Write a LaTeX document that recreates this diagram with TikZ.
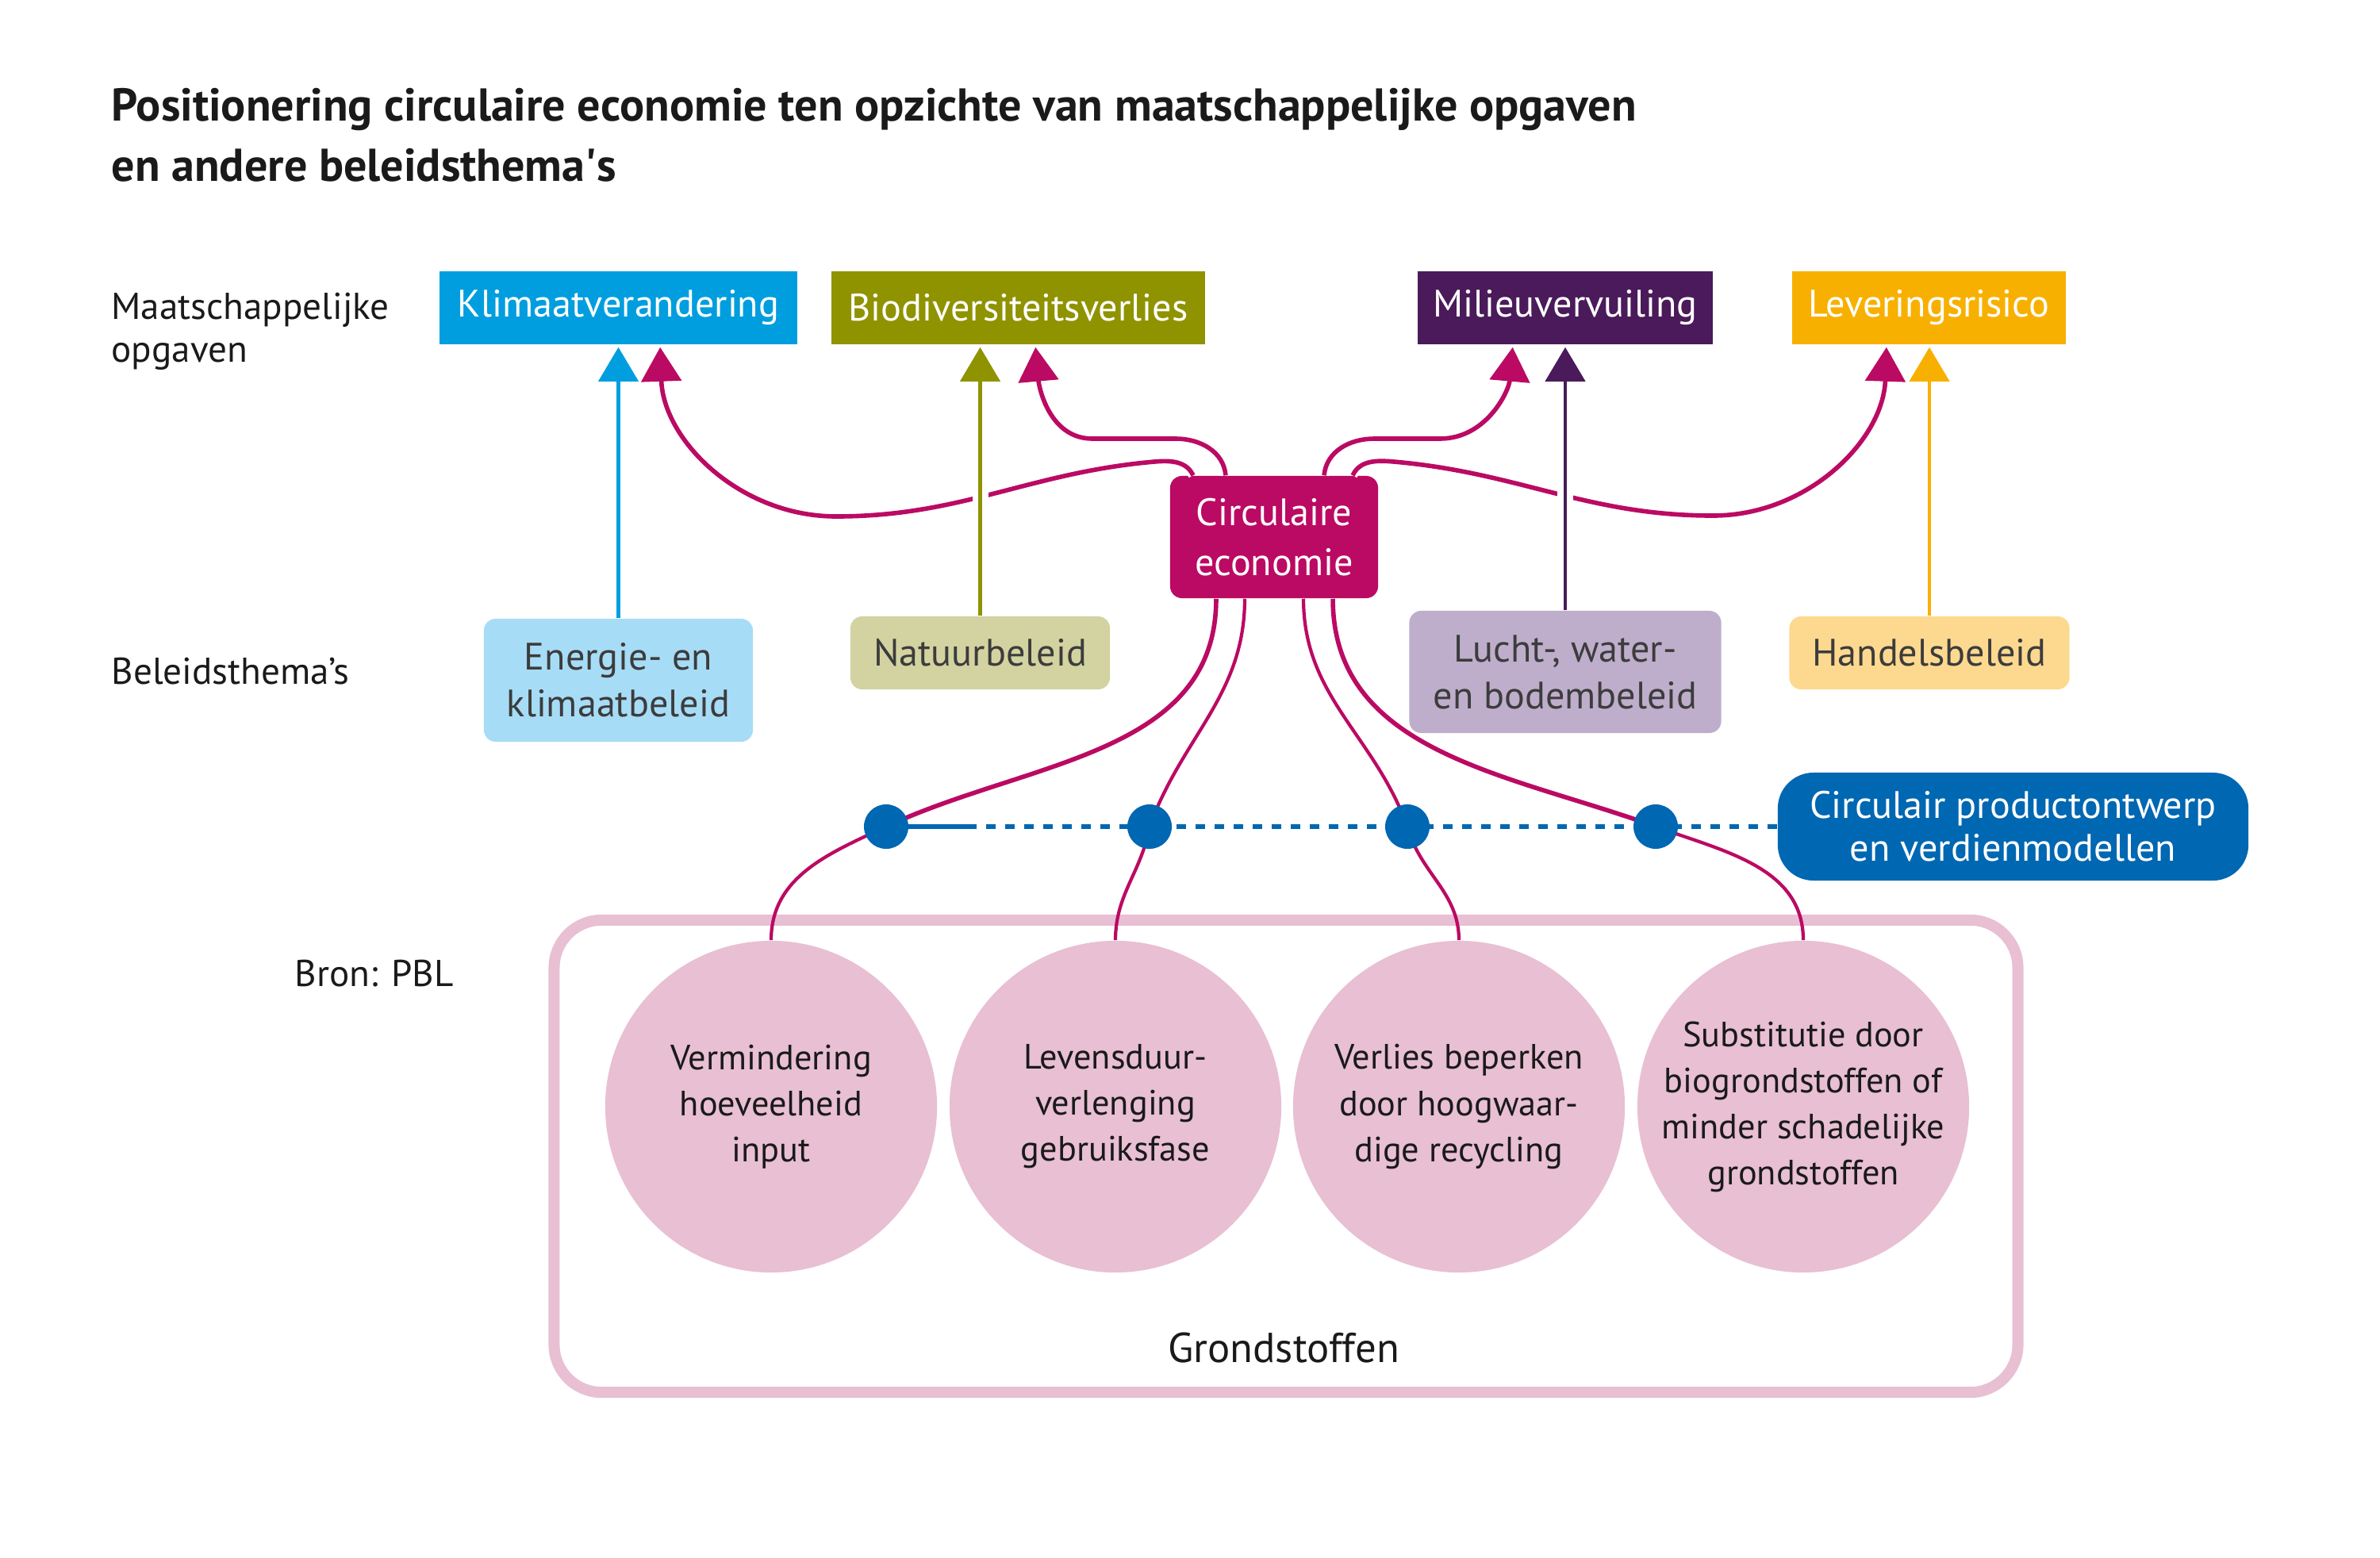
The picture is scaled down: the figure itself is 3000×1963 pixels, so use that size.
\documentclass[tikz,border=0pt]{standalone}
\usepackage{fontspec}
\setmainfont{PT Sans}
\usetikzlibrary{arrows.meta,positioning,calc}
\definecolor{klimaatc}{HTML}{009EDE}
\definecolor{biodivc}{HTML}{8F9300}
\definecolor{milieuc}{HTML}{4A1A5A}
\definecolor{leveringc}{HTML}{F8B000}
\definecolor{circc}{HTML}{BB0A63}
\definecolor{energiec}{HTML}{A7DCF6}
\definecolor{natuurc}{HTML}{D2D3A0}
\definecolor{luchtc}{HTML}{BEAECB}
\definecolor{handelc}{HTML}{FDD98F}
\definecolor{ontwerpc}{HTML}{0067B2}
\definecolor{grondc}{HTML}{E8BFD3}
\definecolor{tekstc}{HTML}{1A1A1A}
\definecolor{grijsc}{HTML}{3C3C3C}
\newcommand{\boxfont}{\fontsize{13.7}{16.8}\selectfont}
\newcommand{\lblfont}{\fontsize{13.4}{15.4}\selectfont}
\newcommand{\rondfont}{\fontsize{12.6}{16.5}\selectfont}

\begin{document}
\begin{tikzpicture}[x=0.01cm,y=0.01cm,
  opgave/.style={fill=#1,text=white,minimum height=0.92cm,inner sep=0pt,font=\boxfont},
  thema/.style={fill=#1,text=grijsc,rounded corners=0.15cm,inner sep=0pt,align=center,font=\boxfont},
  lbl/.style={text=tekstc,inner sep=0pt,align=left,font=\lblfont},
  kop/.style={draw=#1,line width=1.2pt,-{Triangle[length=0.43cm,width=0.5cm]},shorten >=0.03cm,
    preaction={draw=white,line width=0.2cm,arrows=-}},
  celine/.style={draw=circc,line width=1.6pt,preaction={draw=white,line width=3.4pt,arrows=-}},
  cearrow/.style={celine,-{Triangle[length=0.43cm,width=0.5cm]},shorten >=0.03cm},
  cethin/.style={draw=circc,line width=1.2pt},
  dot/.style={circle,fill=ontwerpc,minimum size=0.56cm,inner sep=0pt},
  rondje/.style={circle,fill=grondc,minimum size=4.18cm,inner sep=0pt,align=center,text=tekstc,font=\rondfont},
  stip/.style={draw=ontwerpc,line width=1.9pt}]
  \useasboundingbox (0,0) rectangle (3000,-1963);

  % titel en kantlabels
  \node[lbl,anchor=west,font=\fontsize{16.5}{21.6}\selectfont\bfseries] (titel) at (140,-170)
    {Positionering circulaire economie ten opzichte van maatschappelijke opgaven\\
     en andere beleidsthema\textquotesingle s};
  \node[lbl,anchor=west] (opgaven) at (140,-418) {Maatschappelijke\\opgaven};
  \node[lbl,anchor=base west] (themas) at (140,-862) {Beleidsthema’s};
  \node[lbl,anchor=base west] (bron) at (371,-1243) {Bron: PBL};

  % maatschappelijke opgaven
  \node[opgave=klimaatc,minimum width=4.51cm] (klimaat) at (779.5,-388) {Klimaatverandering};
  \node[opgave=biodivc,minimum width=4.71cm] (biodiv) at (1283.5,-388) {Biodiversiteitsverlies};
  \node[opgave=milieuc,minimum width=3.72cm] (milieu) at (1973,-388) {Milieuvervuiling};
  \node[opgave=leveringc,minimum width=3.45cm] (levering) at (2431.5,-388) {Leveringsrisico};

  % beleidsthema's
  \node[thema=energiec,minimum width=3.39cm,minimum height=1.55cm] (energie) at (779.5,-857.5)
    {Energie- en\\klimaatbeleid};
  \node[thema=natuurc,minimum width=3.27cm,minimum height=0.92cm] (natuur) at (1235.5,-823) {Natuurbeleid};
  \node[thema=luchtc,minimum width=3.93cm,minimum height=1.54cm] (lucht) at (1973,-847)
    {Lucht-, water-\\en bodembeleid};
  \node[thema=handelc,minimum width=3.53cm,minimum height=0.92cm] (handel) at (2432,-823) {Handelsbeleid};

  % grondstoffen
  \node[draw=grondc,line width=0.14cm,rounded corners=0.6cm,minimum width=18.44cm,
    minimum height=5.95cm] (grond) at (1621,-1457.5) {};
  \node[text=tekstc,font=\fontsize{15}{18}\selectfont] (grondlbl) at (1618,-1699) {Grondstoffen};

  \node[fill=circc,text=white,rounded corners=0.15cm,minimum width=2.62cm,minimum height=1.54cm,
    inner sep=0pt,align=center,font=\fontsize{13.7}{18}\selectfont] (ce) at (1606,-677)
    {Circulaire\\economie};

  % lijnen van circulaire economie naar de opgaven
  \draw[cearrow] ([xshift=-1.02cm]ce.north) to[out=115,in=5] (1455,-582)
    to[out=185,in=0] (1054,-651) to[out=180,in=-88] ([xshift=0.525cm]klimaat.south);
  \draw[cearrow] ([xshift=-0.61cm]ce.north) to[out=95,in=0] (1482,-553) -- (1377,-553)
    to[out=180,in=-85] ([xshift=0.215cm]biodiv.south);
  \draw[cearrow] ([xshift=0.63cm]ce.north) to[out=85,in=180] (1732,-553) -- (1815,-553)
    to[out=0,in=-95] ([xshift=-0.66cm]milieu.south);
  \draw[cearrow] ([xshift=0.99cm]ce.north) to[out=65,in=175] (1757,-582)
    to[out=-5,in=180] (2159,-650) to[out=0,in=-92] ([xshift=-0.535cm]levering.south);

  % beleid naar opgaven
  \draw[kop=klimaatc] (energie.north) -- (energie.north |- klimaat.south);
  \draw[kop=biodivc] (natuur.north) -- (natuur.north |- biodiv.south);
  \draw[kop=milieuc] (lucht.north) -- (lucht.north |- milieu.south);
  \draw[kop=leveringc] (handel.north) -- (handel.north |- levering.south);

  % productontwerp
  \node[fill=ontwerpc,text=white,rounded corners=0.45cm,minimum width=5.93cm,minimum height=1.36cm,
    inner sep=0pt,align=center,font=\fontsize{13.7}{15.4}\selectfont] (ontwerp) at (2537.5,-1042)
    {Circulair productontwerp\\en verdienmodellen};
  \coordinate (stipstart) at (1219,-1042);

  \node[rondje] (r1) at (972,-1395) {Vermindering\\hoeveelheid\\input};
  \node[rondje] (r2) at (1406,-1395) {Levensduur-\\verlenging\\gebruiksfase};
  \node[rondje] (r3) at (1839,-1395) {Verlies beperken\\door hoogwaar-\\dige recycling};
  \node[rondje] (r4) at (2273,-1395) {Substitutie door\\biogrondstoffen of\\minder schadelijke\\grondstoffen};

  \coordinate (d1) at (1117,-1042);
  \coordinate (d2) at (1449,-1042);
  \coordinate (d3) at (1774,-1042);
  \coordinate (d4) at (2087,-1042);

  \draw[stip] (d1) -- (stipstart);
  \draw[stip,dash pattern=on 0.12cm off 0.12cm] (stipstart) -- (ontwerp.west);

  % lijnen naar de grondstoffen
  \draw[celine] ([xshift=-0.73cm]ce.south) to[out=-90,in=25] (d1);
  \draw[cethin] (d1) to[out=205,in=90] (r1.north);
  \draw[cethin] ([xshift=-0.37cm]ce.south) to[out=-90,in=70] (d2);
  \draw[cethin] (d2) to[out=-100,in=90] (r2.north);
  \draw[cethin] ([xshift=0.37cm]ce.south) to[out=-90,in=110] (d3);
  \draw[cethin] (d3) to[out=-75,in=90] (r3.north);
  \draw[celine] ([xshift=0.74cm]ce.south) to[out=-90,in=160] (d4);
  \draw[cethin] (d4) to[out=-20,in=90] (r4.north);

  \foreach \i in {1,...,4}
    \node[dot] (dot\i) at (d\i) {};
\end{tikzpicture}
\end{document}
